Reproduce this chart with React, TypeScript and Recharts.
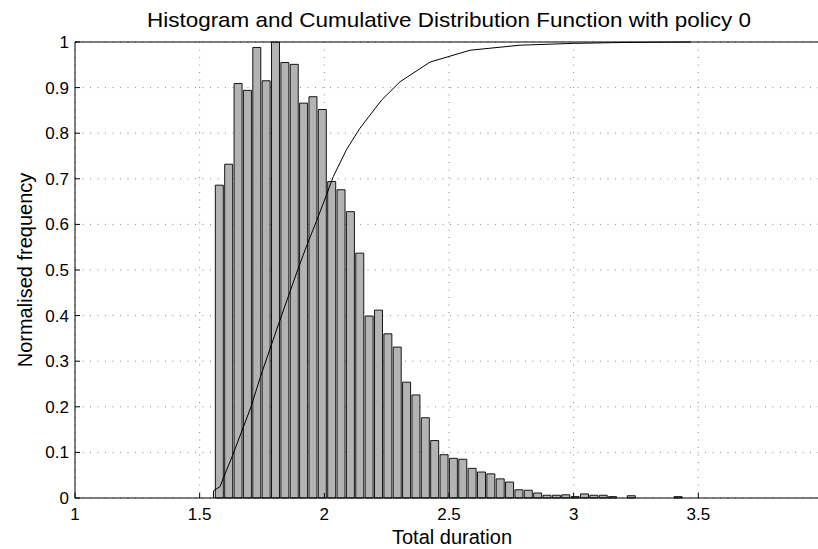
import { ComposedChart, Bar, Line, XAxis, YAxis, CartesianGrid, Customized } from "recharts"

// histogram bins (centre of each bin) and normalised counts
const binCentres = [
  1.5776, 1.6151, 1.6527, 1.6902, 1.7278, 1.7653, 1.8029, 1.8404, 1.878, 1.9155,
  1.9531, 1.9906, 2.0282, 2.0657, 2.1033, 2.1408, 2.1784, 2.2159, 2.2535, 2.291,
  2.3286, 2.3661, 2.4037, 2.4412, 2.4788, 2.5163, 2.5539, 2.5914, 2.629, 2.6665,
  2.7041, 2.7416, 2.7792, 2.8167, 2.8543, 2.8918, 2.9294, 2.9669, 3.0045, 3.042,
  3.0796, 3.1171, 3.1547, 3.1922, 3.2298, 3.2673, 3.3049, 3.3424, 3.38, 3.4175,
]
const frequency = [
  0.686, 0.732, 0.909, 0.894, 0.988, 0.915, 1.0, 0.955, 0.951, 0.866,
  0.88, 0.852, 0.694, 0.676, 0.628, 0.537, 0.399, 0.412, 0.36, 0.331,
  0.254, 0.226, 0.176, 0.126, 0.095, 0.087, 0.085, 0.065, 0.057, 0.053,
  0.042, 0.035, 0.018, 0.017, 0.011, 0.006, 0.006, 0.007, 0.003, 0.009,
  0.006, 0.006, 0.003, 0, 0.005, 0, 0, 0, 0, 0.003,
]

// empirical CDF samples
const cdfDuration = [
  1.555, 1.556, 1.582, 1.595, 1.631, 1.706, 1.742, 1.818, 1.893, 1.929,
  1.969, 2.009, 2.036, 2.09, 2.143, 2.23, 2.304, 2.424, 2.585, 2.785,
  3.0, 3.2, 3.47,
]
const cdfValue = [
  0, 0.016, 0.025, 0.044, 0.092, 0.2, 0.263, 0.384, 0.5, 0.553,
  0.608, 0.665, 0.705, 0.765, 0.811, 0.873, 0.913, 0.956, 0.982, 0.993,
  0.997, 0.999, 1.0,
]

const xTicks = [1, 1.5, 2, 2.5, 3, 3.5, 4]
const yTicks = [0, 0.1, 0.2, 0.3, 0.4, 0.5, 0.6, 0.7, 0.8, 0.9, 1]

const histData = binCentres.map((x, i) => ({ x, freq: frequency[i] }))
const cdfData = cdfDuration.map((x, i) => ({ x, cdf: cdfValue[i] }))

const FONT = '"Liberation Sans", Arial, Helvetica, sans-serif'
const tickStyle = { fontSize: 17, fill: "#000", fontFamily: FONT }

function ChartLabels() {
  return (
    <g fontFamily={FONT} fill="#000">
      <text x={449} y={27} fontSize={21} textAnchor="middle" textLength={604} lengthAdjust="spacingAndGlyphs">
        Histogram and Cumulative Distribution Function with policy 0
      </text>
      <text x={32} y={270} fontSize={20} textAnchor="middle" transform="rotate(-90 32 270)">
        Normalised frequency
      </text>
      <text x={452} y={544} fontSize={20} textAnchor="middle">
        Total duration
      </text>
    </g>
  )
}

export default function App() {
  return (
    <div style={{ position: "fixed", left: 0, top: 0, width: 818, height: 549, overflow: "hidden", background: "#fff" }}>
      <ComposedChart
        width={830}
        height={549}
        data={histData}
        margin={{ top: 40, right: 2, bottom: 0, left: 15 }}
      >
        <CartesianGrid stroke="#888" strokeDasharray="1 6.5" />
        <XAxis
          dataKey="x"
          type="number"
          domain={[1, 4]}
          ticks={xTicks}
          height={51}
          tickSize={-5}
          tickMargin={15}
          tick={tickStyle}
          stroke="#000"
          interval={0}
        />
        <XAxis xAxisId="top" orientation="top" type="number" domain={[1, 4]} ticks={xTicks} height={2} tickSize={-5} tick={false} stroke="#000" />
        <XAxis xAxisId="cdf" dataKey="x" type="number" domain={[1, 4]} hide allowDataOverflow />
        <YAxis
          type="number"
          domain={[0, 1]}
          ticks={yTicks}
          width={60}
          tickSize={-5}
          tickMargin={11}
          tick={tickStyle}
          stroke="#000"
          interval={0}
        />
        <YAxis yAxisId="right" orientation="right" type="number" domain={[0, 1]} ticks={yTicks} width={5} tickSize={-5} tick={false} stroke="#000" />
        <Bar dataKey="freq" barSize={8} fill="#b3b3b3" stroke="#000" strokeWidth={0.9} isAnimationActive={false} />
        <Line
          xAxisId="cdf"
          data={cdfData}
          dataKey="cdf"
          type="linear"
          stroke="#000"
          strokeWidth={1}
          dot={false}
          activeDot={false}
          isAnimationActive={false}
        />
        <Customized component={ChartLabels} />
      </ComposedChart>
    </div>
  )
}
